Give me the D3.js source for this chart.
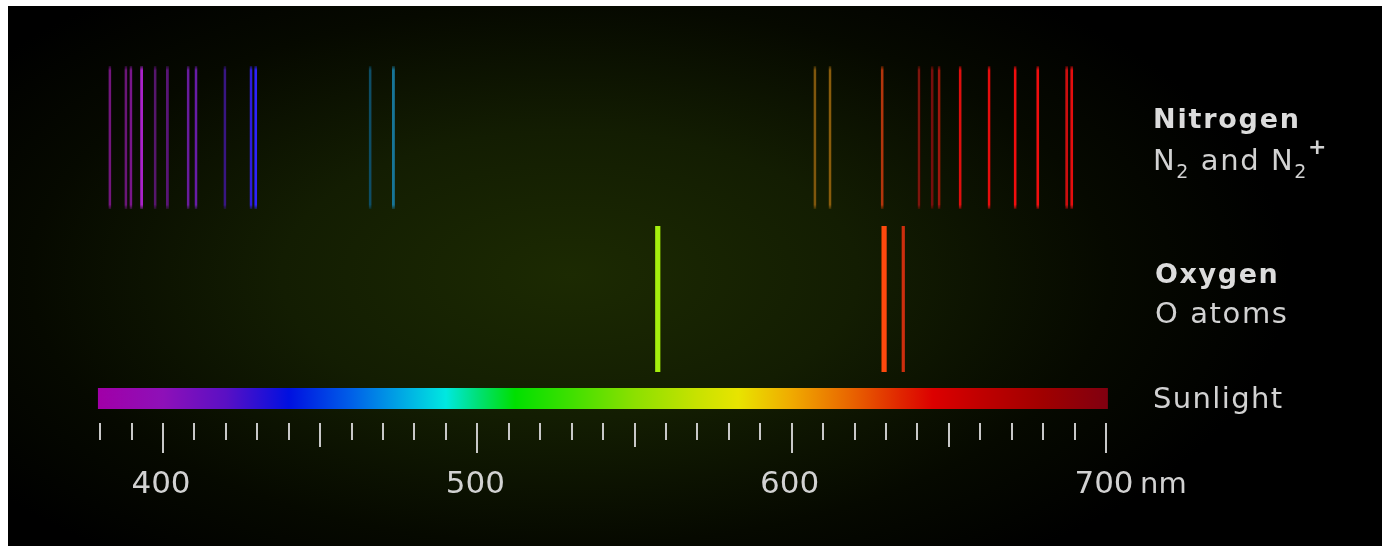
<!DOCTYPE html>
<html>
<head>
<meta charset="utf-8">
<script src="https://cdn.jsdelivr.net/npm/d3@7/dist/d3.min.js"></script>
<style>
  html, body { margin: 0; padding: 0; background: #ffffff; }
  svg { display: block; }
  text { font-family: "DejaVu Sans", Verdana, sans-serif; }
</style>
</head>
<body>
<script>
// ---------- data ----------
const nitrogenNm = [383.1, 388.2, 389.8, 393.2, 397.5, 401.4, 408.0, 410.5, 419.7, 428.0, 429.5,
                    465.9, 473.3,
                    607.4, 612.2, 628.8, 640.5, 644.7, 646.9, 653.6, 662.8, 671.1, 678.3, 687.5, 689.1];
const nitrogenIntensity = [0.7, 0.62, 0.7, 0.95, 0.5, 0.55, 0.75, 0.8, 0.65, 0.9, 1.0,
                           0.6, 0.85,
                           0.65, 0.7, 0.7, 0.6, 0.55, 0.7, 0.9, 0.9, 0.95, 0.95, 0.8, 0.9];
const oxygenNm = [557.4, 629.4, 635.5];
const oxygenIntensity = [1.0, 1.0, 0.85];
const tickValues = d3.range(380, 701, 10);
const tickLabels = [400, 500, 600, 700];
const unitLabel = "nm";
const rowNames = ["Nitrogen", "Oxygen", "Sunlight"];
const rowSubtitles = ["N2 and N2+", "O atoms", ""];
// colours of the visible-light band, by wavelength
const spectrumNm =     [380, 400, 420, 440, 460, 475, 490, 500, 512, 530, 550, 570, 583, 600, 620, 635, 645, 660, 680, 701];
const spectrumColors = ["#a000a8", "#8e10b8", "#5a10c4", "#0010e0", "#0060e8", "#00a4e4", "#00e8e0", "#00e078", "#00e000", "#40e000",
                        "#8ce000", "#c8e200", "#e8e400", "#f0aa00", "#e86000", "#e02400", "#dc0000", "#c00000", "#a00000", "#800010"];
// emission line hues, by wavelength
const lineNm =     [380, 395, 410, 420, 430, 465, 475, 557, 607, 613, 629, 636, 641, 655, 690];
const lineColors = ["#a018a8", "#b424d8", "#8424d0", "#5420c8", "#2c22ff", "#1c80a8", "#1c8cb4", "#a4f010", "#c48418", "#c48418", "#ff4a0c", "#f03410", "#cc2010", "#ff1212", "#ff1212"];

// ---------- layout ----------
const W = 1382, H = 546;
const svg = d3.select("body").append("svg").attr("width", W).attr("height", H);
const defs = svg.append("defs");

const x = d3.scaleLinear().domain([400, 700]).range([163, 1106]);
const lineColor = d3.scaleLinear().domain(lineNm).range(lineColors).interpolate(d3.interpolateRgb);
const shade = (c, k) => d3.interpolateRgb("#000000", c)(k);

const rowY = d3.scaleOrdinal().domain(rowNames).range([[66, 209], [226, 372], [388, 409]]);

// background
svg.append("rect").attr("x", 0).attr("y", 0).attr("width", W).attr("height", H).attr("fill", "#ffffff");
const glow = defs.append("radialGradient").attr("id", "glow")
  .attr("gradientUnits", "userSpaceOnUse")
  .attr("cx", 570).attr("cy", 275).attr("r", 720)
  .attr("gradientTransform", "translate(570,275) scale(1,0.5) translate(-570,-275)");
glow.append("stop").attr("offset", 0).attr("stop-color", "#1c2a02");
glow.append("stop").attr("offset", 0.4).attr("stop-color", "#131d02");
glow.append("stop").attr("offset", 0.75).attr("stop-color", "#060900");
glow.append("stop").attr("offset", 1).attr("stop-color", "#000000");
svg.append("rect").attr("x", 8).attr("y", 6).attr("width", W - 8).attr("height", H - 6).attr("fill", "#020200");
svg.append("rect").attr("x", 8).attr("y", 6).attr("width", W - 8).attr("height", H - 6).attr("fill", "url(#glow)");

// vertical fade for emission lines
const fade = defs.append("linearGradient").attr("id", "fade").attr("x1", 0).attr("y1", 0).attr("x2", 0).attr("y2", 1);
fade.append("stop").attr("offset", 0).attr("stop-color", "#fff").attr("stop-opacity", 0.3);
fade.append("stop").attr("offset", 0.03).attr("stop-color", "#fff").attr("stop-opacity", 1);
fade.append("stop").attr("offset", 0.97).attr("stop-color", "#fff").attr("stop-opacity", 1);
fade.append("stop").attr("offset", 1).attr("stop-color", "#fff").attr("stop-opacity", 0.3);
defs.append("mask").attr("id", "fadeMask").attr("maskContentUnits", "objectBoundingBox")
  .append("rect").attr("width", 1).attr("height", 1).attr("fill", "url(#fade)");
const blur = defs.append("filter").attr("id", "soft").attr("x", "-200%").attr("width", "500%");
blur.append("feGaussianBlur").attr("stdDeviation", 0.7);

// nitrogen lines
const [nTop, nBot] = rowY("Nitrogen");
svg.append("g").attr("filter", "url(#soft)")
  .selectAll("rect").data(nitrogenNm).join("rect")
  .attr("x", d => x(d) - 1.5).attr("width", 3)
  .attr("y", nTop).attr("height", nBot - nTop)
  .attr("mask", "url(#fadeMask)")
  .attr("fill", (d, i) => shade(lineColor(d), nitrogenIntensity[i]));

// oxygen lines
const [oTop, oBot] = rowY("Oxygen");
svg.append("g").attr("filter", "url(#soft)")
  .selectAll("rect").data(oxygenNm).join("rect")
  .attr("x", (d, i) => x(d) - (oxygenIntensity[i] > 0.95 ? 2.6 : 1.6))
  .attr("width", (d, i) => oxygenIntensity[i] > 0.95 ? 5.2 : 3.2)
  .attr("y", oTop).attr("height", oBot - oTop)
  .attr("fill", (d, i) => shade(lineColor(d), oxygenIntensity[i]));

// sunlight spectrum bar
const [sTop, sBot] = rowY("Sunlight");
const barStart = 379.3, barEnd = 700.6;
const sg = defs.append("linearGradient").attr("id", "spec")
  .attr("gradientUnits", "userSpaceOnUse").attr("x1", x(barStart)).attr("x2", x(barEnd)).attr("y1", 0).attr("y2", 0);
spectrumNm.forEach((nm, i) => {
  sg.append("stop").attr("offset", Math.max(0, Math.min(1, (nm - barStart) / (barEnd - barStart))))
    .attr("stop-color", spectrumColors[i]);
});
svg.append("rect").attr("x", x(barStart)).attr("y", sTop)
  .attr("width", x(barEnd) - x(barStart)).attr("height", sBot - sTop)
  .attr("fill", "url(#spec)");

// axis ticks
const tickG = svg.append("g").attr("stroke", "#c8c8c8").attr("stroke-width", 2);
tickG.selectAll("line").data(tickValues).join("line")
  .attr("x1", d => Math.round(x(d))).attr("x2", d => Math.round(x(d)))
  .attr("y1", 423)
  .attr("y2", d => d % 100 === 0 ? 453 : (d % 50 === 0 ? 447 : 440));

// tick labels
svg.append("g").selectAll("text").data(tickLabels).join("text")
  .attr("x", d => x(d) - 2).attr("y", 493)
  .attr("text-anchor", "middle")
  .attr("fill", "#d2d2d2").attr("font-size", 31)
  .text(d => d);
svg.append("text").attr("x", x(700) + 34).attr("y", 493)
  .attr("fill", "#d2d2d2").attr("font-size", 29)
  .text(unitLabel);

// row labels
const labelX = 1153;
svg.append("text").attr("x", labelX).attr("y", 128)
  .attr("fill", "#dcdcdc").attr("font-size", 27).attr("font-weight", "bold").attr("letter-spacing", 1.8)
  .text(rowNames[0]);
const sub = svg.append("text").attr("x", labelX).attr("y", 170)
  .attr("fill", "#d2d2d2").attr("font-size", 29).attr("letter-spacing", 1.6);
sub.append("tspan").text("N");
sub.append("tspan").attr("font-size", 19).attr("dy", 8).text("2");
sub.append("tspan").attr("dy", -8).text(" and N");
sub.append("tspan").attr("font-size", 19).attr("dy", 8).text("2");
sub.append("tspan").attr("font-size", 22).attr("font-weight", "bold").attr("dx", 0).attr("dy", -24).text("+");

svg.append("text").attr("x", labelX + 2).attr("y", 283)
  .attr("fill", "#dcdcdc").attr("font-size", 27).attr("font-weight", "bold").attr("letter-spacing", 1.6)
  .text(rowNames[1]);
svg.append("text").attr("x", labelX + 2).attr("y", 323)
  .attr("fill", "#d2d2d2").attr("font-size", 29).attr("letter-spacing", 1.6)
  .text(rowSubtitles[1]);
svg.append("text").attr("x", labelX).attr("y", 408)
  .attr("fill", "#d2d2d2").attr("font-size", 29).attr("letter-spacing", 1.4)
  .text(rowNames[2]);
</script>
</body>
</html>
